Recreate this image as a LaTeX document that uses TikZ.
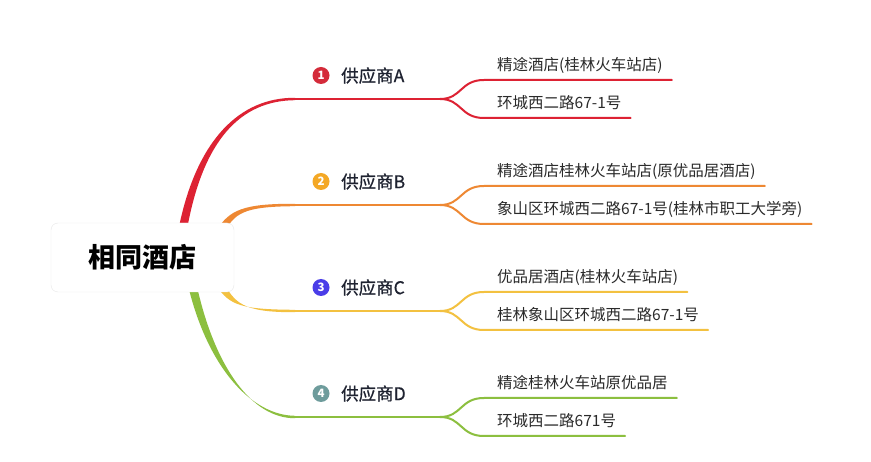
\documentclass[tikz,border=0pt]{standalone}
\usepackage{fontspec}
\setmainfont{Noto Sans CJK SC}
\newfontfamily\labfont[FakeBold=0.6]{Noto Sans CJK SC}
\definecolor{cA}{HTML}{DD2233}
\definecolor{cB}{HTML}{EE8833}
\definecolor{cC}{HTML}{F3C140}
\definecolor{cD}{HTML}{8CBF3F}
\definecolor{nA}{HTML}{D42B3A}
\definecolor{nB}{HTML}{F4A825}
\definecolor{nC}{HTML}{4A3DE8}
\definecolor{nD}{HTML}{6E9C9C}
\definecolor{txt}{HTML}{2A2A2A}
\definecolor{labtxt}{HTML}{1E2230}
\tikzset{
  rootbox/.style={draw=black!9, fill=white, rounded corners=7pt, minimum width=183pt, minimum height=69pt, inner sep=0pt, font=\fontsize{27}{30}\selectfont\bfseries, text=black},
  numc/.style={circle, inner sep=0pt, minimum size=17pt, text=white, font=\fontsize{11.5}{11.5}\selectfont\bfseries},
  lab/.style={inner sep=0pt, anchor=west, text=labtxt, font=\labfont\fontsize{17.5}{20}\selectfont},
  subtext/.style={inner sep=0pt, anchor=west, text=txt, font=\fontsize{15.5}{18}\selectfont},
  mainline/.style={line width=2.4pt, line cap=round},
  subline/.style={line width=2pt, line cap=round},
}
\newcommand\supplier[8]{%
  \node[numc, fill=#4] (#1n) at (321,#2) {#5};
  \node[lab] (#1l) at (341,#2) {#6};
  \node[subtext] (#1t) at (497,#2-10.5) {#7};
  \node[subtext] (#1b) at (497,#2+27.5) {#8};
  \coordinate (#1h) at (292,#2+23.5);
  \coordinate (#1f) at (440,#2+23.5);
  \coordinate (#1u) at (484,#2+4.5);
  \coordinate (#1d) at (484,#2+42.5);
  \draw[mainline, #3] (#1h) -- (#1f);
  \draw[subline, #3] (#1f) .. controls +(22,0) and +(-24,0) .. (#1u) -- ([xshift=9pt]#1t.east |- #1u);
  \draw[subline, #3] (#1f) .. controls +(22,0) and +(-24,0) .. (#1d) -- ([xshift=9pt]#1b.east |- #1d);
}
\begin{document}
\begin{tikzpicture}[x=1pt, y=-1pt]
\useasboundingbox[fill=white] (0,0) rectangle (871,462);
% tapered trunks
\fill[cA] (178.9,227.2) .. controls (196.9,139.4) and (240,97.4) .. (295,97.8)
  -- (295,100.2) .. controls (240,100.6) and (203.1,140.6) .. (187.1,228.8) -- cycle;
\fill[cB] (216.7,230.1) .. controls (229.4,210.5) and (242,203.5) .. (295,203.8)
  -- (295,206.2) .. controls (242,206.5) and (234.6,213.5) .. (223.3,233.9) -- cycle;
\fill[cC] (216.7,285.95) .. controls (229.4,305.5) and (242,309.5) .. (295,309.8)
  -- (295,312.2) .. controls (242,312.5) and (234.6,302.5) .. (223.3,282.05) -- cycle;
\fill[cD] (188.9,289) .. controls (208.9,368.7) and (252,415.4) .. (295,415.8)
  -- (295,418.2) .. controls (252,418.6) and (215.1,367.3) .. (197.1,287) -- cycle;
\node[rootbox] (root) at (142.5,257.5) {相同酒店};
\supplier{a}{75.5}{cA}{nA}{1}{供应商A}{精途酒店(桂林火车站店)}{环城西二路67-1号}
\supplier{b}{181.5}{cB}{nB}{2}{供应商B}{精途酒店桂林火车站店(原优品居酒店)}{象山区环城西二路67-1号(桂林市职工大学旁)}
\supplier{c}{287.5}{cC}{nC}{3}{供应商C}{优品居酒店(桂林火车站店)}{桂林象山区环城西二路67-1号}
\supplier{d}{393.5}{cD}{nD}{4}{供应商D}{精途桂林火车站原优品居}{环城西二路671号}
\end{tikzpicture}
\end{document}
